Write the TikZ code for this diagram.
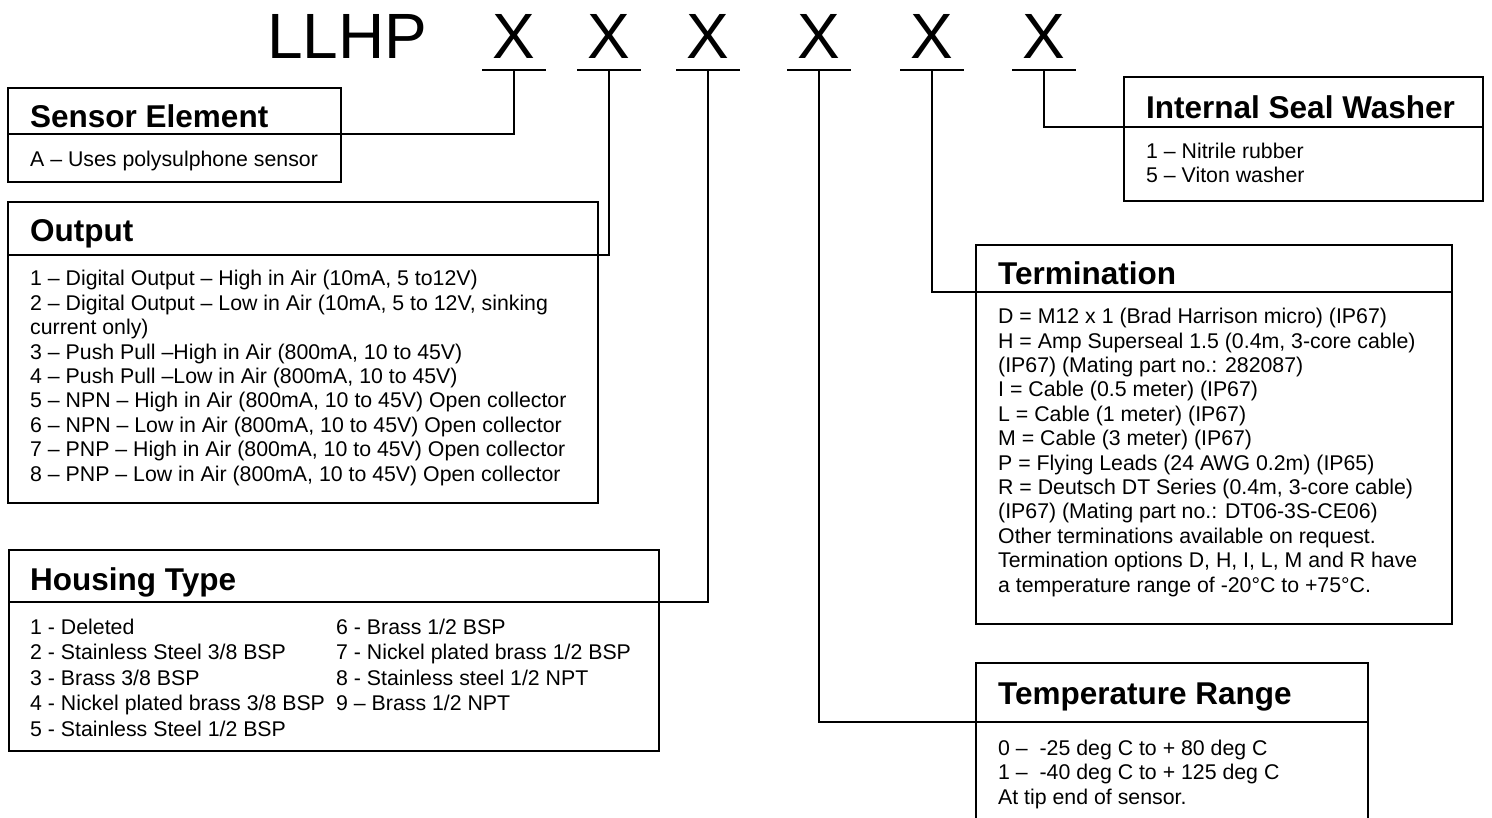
\documentclass[tikz,border=0pt]{standalone}
\usepackage{fontspec}
\setmainfont{Liberation Sans}
\usetikzlibrary{positioning}

\begin{document}
\begin{tikzpicture}[
  x=1pt, y=-1pt,
  box/.style={draw, line width=1.8pt, anchor=north west, inner sep=0pt, outer sep=0pt},
  ttl/.style={anchor=base west, inner sep=0pt, font=\fontsize{31.5}{36}\selectfont\bfseries},
  txt/.style={anchor=base west, inner sep=0pt, align=left, font=\fontsize{21.3}{24.4}\selectfont},
  code/.style={anchor=base, inner sep=0pt, font=\fontsize{64}{70}\selectfont, text depth=11pt, minimum width=63pt},
  link/.style={line width=2.4pt}
]
\useasboundingbox (0,0) rectangle (1492,818);

% Part number
\node[anchor=base west, inner sep=0pt, font=\fontsize{64}{70}\selectfont] (llhp) at (267,59) {LLHP};
\foreach \i/\xx in {1/514, 2/609, 3/708, 4/819, 5/932, 6/1044} {
  \node[code] (x\i) at (\xx,59) {X};
  \draw[line width=2pt] (x\i.south west) -- (x\i.south east);
}

% Sensor element
\node[box, minimum width=333pt, minimum height=46pt] (senshead) at (8,88) {};
\node[box, minimum width=333pt, minimum height=48pt] (sensbody) at (senshead.south west) {};
\node[ttl] (senstitle) at (30,128) {Sensor Element};
\node[txt] (senstext) at (30,167) {A – Uses polysulphone sensor};

% Output (text placed by its last line)
\node[box, minimum width=590pt, minimum height=53pt] (outhead) at (8,202) {};
\node[box, minimum width=590pt, minimum height=248pt] (outbody) at (outhead.south west) {};
\node[ttl] (outtitle) at (30,242) {Output};
\node[txt] (outtext) at (30,481) {1 – Digital Output – High in Air (10mA, 5 to12V)\\
  2 – Digital Output – Low in Air (10mA, 5 to 12V, sinking\\
  current only)\\
  3 – Push Pull –High in Air (800mA, 10 to 45V)\\
  4 – Push Pull –Low in Air (800mA, 10 to 45V)\\
  5 – NPN – High in Air (800mA, 10 to 45V) Open collector\\
  6 – NPN – Low in Air (800mA, 10 to 45V) Open collector\\
  7 – PNP – High in Air (800mA, 10 to 45V) Open collector\\
  8 – PNP – Low in Air (800mA, 10 to 45V) Open collector};

% Housing type
\node[box, minimum width=650pt, minimum height=52pt] (houshead) at (9,550) {};
\node[box, minimum width=650pt, minimum height=149pt] (housbody) at (houshead.south west) {};
\node[ttl] (houstitle) at (30,590) {Housing Type};
\node[txt, font=\fontsize{21.3}{25.5}\selectfont] (houstexta) at (30,736) {1 - Deleted\\
  2 - Stainless Steel 3/8 BSP\\
  3 - Brass 3/8 BSP\\
  4 - Nickel plated brass 3/8 BSP\\
  5 - Stainless Steel 1/2 BSP};
\node[txt, font=\fontsize{21.3}{25.5}\selectfont] (houstextb) at (336,710.5) {6 - Brass 1/2 BSP\\
  7 - Nickel plated brass 1/2 BSP\\
  8 - Stainless steel 1/2 NPT\\
  9 – Brass 1/2 NPT};

% Internal seal washer
\node[box, minimum width=359pt, minimum height=50pt] (sealhead) at (1124,77) {};
\node[box, minimum width=359pt, minimum height=74pt] (sealbody) at (sealhead.south west) {};
\node[ttl] (sealtitle) at (1146,119) {Internal Seal Washer};
\node[txt] (sealtext) at (1146,183) {1 – Nitrile rubber\\
  5 – Viton washer};

% Termination
\node[box, minimum width=476pt, minimum height=47pt] (termhead) at (976,245) {};
\node[box, minimum width=476pt, minimum height=332pt] (termbody) at (termhead.south west) {};
\node[ttl] (termtitle) at (998,285) {Termination};
\node[txt] (termtext) at (998,592) {D = M12 x 1 (Brad Harrison micro) (IP67)\\
  H = Amp Superseal 1.5 (0.4m, 3-core cable)\\
  (IP67) (Mating part no.: 282087)\\
  I = Cable (0.5 meter) (IP67)\\
  L = Cable (1 meter) (IP67)\\
  M = Cable (3 meter) (IP67)\\
  P = Flying Leads (24 AWG 0.2m) (IP65)\\
  R = Deutsch DT Series (0.4m, 3-core cable)\\
  (IP67) (Mating part no.: DT06-3S-CE06)\\
  Other terminations available on request.\\
  Termination options D, H, I, L, M and R have\\
  a temperature range of -20°C to +75°C.};

% Temperature range (runs off the page)
\node[box, minimum width=392pt, minimum height=59pt] (temphead) at (976,663) {};
\coordinate (tempbl) at (976,818);
\coordinate (tempbr) at (1368,818);
\draw[line width=1.8pt] (temphead.south west) -- (tempbl);
\draw[line width=1.8pt] (temphead.south east) -- (tempbr);
\node[ttl] (temptitle) at (998,704) {Temperature Range};
\node[txt] (temptext) at (998,804) {0 – \ -25 deg C to + 80 deg C\\
  1 – \ -40 deg C to + 125 deg C\\
  At tip end of sensor.};

% Leader lines
\draw[link] (x1.south) |- (senshead.south east);
\draw[link] (x2.south) |- (outhead.south east);
\draw[link] (x3.south) |- (houshead.south east);
\draw[link] (x4.south) |- (temphead.south west);
\draw[link] (x5.south) |- (termhead.south west);
\draw[link] (x6.south) |- (sealhead.south west);

\end{tikzpicture}
\end{document}
